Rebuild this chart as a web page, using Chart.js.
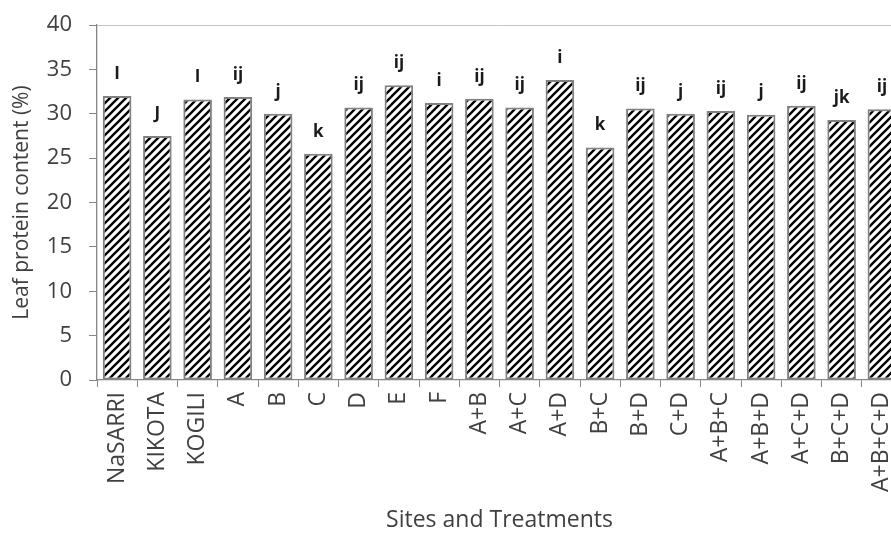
<!DOCTYPE html>
<html>
<head>
<meta charset="utf-8">
<script src="https://cdn.jsdelivr.net/npm/chart.js@4/dist/chart.umd.min.js"></script>
<style>
  html, body { margin: 0; padding: 0; background: #fff; overflow: hidden; }
  #wrap { width: 910px; height: 534px; }
</style>
</head>
<body>
<div id="wrap"><canvas id="chart" width="910" height="534"></canvas></div>
<script>
const categories = [
  "NaSARRI", "KIKOTA", "KOGILI", "A", "B", "C", "D", "E", "F",
  "A+B", "A+C", "A+D", "B+C", "B+D", "C+D",
  "A+B+C", "A+B+D", "A+C+D", "B+C+D", "A+B+C+D",
];
const protein = [
  32.0, 27.5, 31.6, 31.9, 30.0, 25.5, 30.7, 33.2, 31.2,
  31.7, 30.7, 33.8, 26.2, 30.6, 30.0,
  30.3, 29.9, 30.9, 29.3, 30.5,
];
const letters = [
  "I", "J", "I", "ij", "j", "k", "ij", "ij", "i",
  "ij", "ij", "i", "k", "ij", "j",
  "ij", "j", "ij", "jk", "ij",
];
const yTicks = [0, 5, 10, 15, 20, 25, 30, 35, 40];

const textColor = "#404040";
const axisColor = "#868686";
const font = "'Open Sans', 'DejaVu Sans', sans-serif";

// diagonal hatch like the Excel pattern fill
function hatch() {
  const c = document.createElement("canvas");
  c.width = 8;
  c.height = 8;
  const g = c.getContext("2d");
  g.fillStyle = "#fff";
  g.fillRect(0, 0, 8, 8);
  g.strokeStyle = "#000";
  g.lineWidth = 2.3;
  g.beginPath();
  g.moveTo(-1, 9); g.lineTo(9, -1);
  g.moveTo(-5, 5); g.lineTo(5, -5);
  g.moveTo(3, 13); g.lineTo(13, 3);
  g.stroke();
  return g.createPattern(c, "repeat");
}

// letters above each bar
const letterLabels = {
  id: "letterLabels",
  afterDatasetsDraw(chart) {
    const { ctx } = chart;
    const meta = chart.getDatasetMeta(0);
    ctx.save();
    ctx.font = `bold 17px ${font}`;
    ctx.fillStyle = "#1a1a1a";
    ctx.textAlign = "center";
    ctx.textBaseline = "middle";
    meta.data.forEach((bar, i) => {
      ctx.fillText(letters[i], bar.x, bar.y - 22);
    });
    ctx.restore();
  },
};

new Chart(document.getElementById("chart"), {
  type: "bar",
  plugins: [letterLabels],
  data: {
    labels: categories,
    datasets: [
      {
        label: "Leaf protein content (%)",
        data: protein,
        backgroundColor: hatch(),
        borderColor: "#808080",
        borderWidth: 2,
        borderSkipped: false,
        categoryPercentage: 1,
        barPercentage: 0.71,
      },
    ],
  },
  options: {
    animation: false,
    responsive: false,
    events: [],
    layout: { padding: { top: 25, right: 8, left: 0, bottom: 0 } },
    plugins: {
      legend: { display: false },
      tooltip: { enabled: false },
    },
    scales: {
      x: {
        afterFit: (s) => {
          s.height = 154;
          s.paddingLeft = 0;
          s.paddingRight = 0;
        },
        grid: {
          offset: true,
          drawOnChartArea: false,
          tickLength: 7,
          tickColor: axisColor,
        },
        border: { color: axisColor, width: 1.3 },
        ticks: {
          color: textColor,
          font: { family: font, size: 23 },
          minRotation: 90,
          maxRotation: 90,
          autoSkip: false,
          padding: 5,
        },
        title: {
          display: true,
          text: "Sites and Treatments",
          color: textColor,
          font: { family: font, size: 23 },
          padding: { top: 0, bottom: 0 },
        },
      },
      y: {
        min: 0,
        max: 40,
        afterFit: (s) => {
          s.width = 97;
          s.paddingTop = 0;
          s.paddingBottom = 0;
        },
        afterBuildTicks: (s) => { s.ticks = yTicks.map((v) => ({ value: v })); },
        grid: {
          color: (c) => (c.tick && c.tick.value === 40 ? "#c4c4c4" : "rgba(0,0,0,0)"),
          tickColor: axisColor,
          tickLength: 8,
        },
        border: { color: axisColor, width: 1.3 },
        ticks: {
          color: textColor,
          font: { family: font, size: 22 },
          padding: 17,
        },
        title: {
          display: true,
          text: "Leaf protein content (%)",
          color: textColor,
          font: { family: font, size: 21 },
          padding: { top: 9, bottom: 0 },
        },
      },
    },
  },
});
</script>
</body>
</html>
